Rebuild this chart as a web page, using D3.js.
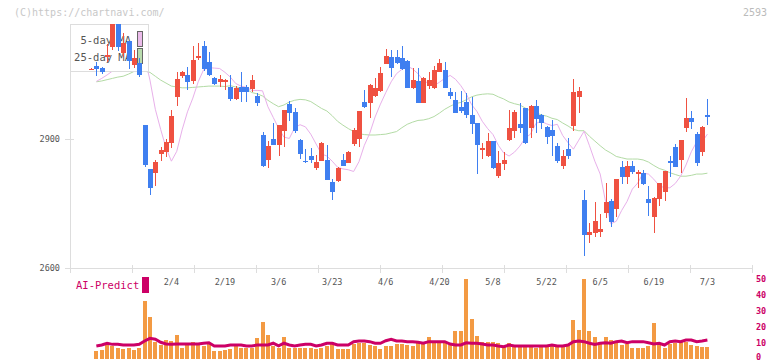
<!DOCTYPE html>
<html>
<head>
<meta charset="utf-8">
<script src="https://cdn.jsdelivr.net/npm/d3@7"></script>
<style>
  body { margin: 0; background: #fff; }
  svg text { font-family: "DejaVu Sans Mono", monospace; }
</style>
</head>
<body>
<div id="chart"></div>
<script>
'use strict';

// daily candles, oldest first (yen)
const opens = [3063, 3071, 3066, 3092, 3116, 3195, 3101, 3130, 3073, 3078,
  2933, 2831, 2822, 2866, 2871, 2892, 2999, 3048, 3050, 3037,
  3090, 3118, 3080, 3043, 3034, 3034, 3021, 2993, 3023, 3022,
  3017, 3002, 2910, 2852, 2901, 2887, 2920, 2982, 2963, 2898,
  2850, 2862, 2832, 2850, 2852, 2800, 2803, 2852, 2845, 2889,
  2900, 2988, 2985, 3002, 3013, 3076, 3091, 3091, 3089, 3083,
  3020, 3036, 2985, 3025, 3020, 3058, 3062, 3011, 2992, 2975,
  2987, 2957, 2937, 2875, 2861, 2896, 2814, 2842, 2898, 2920,
  2936, 2972, 2927, 2978, 2957, 2929, 2922, 2884, 2838, 2877,
  2931, 2999, 2759, 2677, 2682, 2685, 2729, 2756, 2737, 2836,
  2813, 2838, 2818, 2822, 2761, 2720, 2761, 2776, 2849, 2883,
  2852, 2927, 2950, 2912, 2871, 2957];
const highs = [3066, 3081, 3069, 3122, 3215, 3210, 3148, 3130, 3108, 3090,
  2933, 2831, 2852, 2883, 2901, 2968, 3058, 3060, 3069, 3118,
  3125, 3130, 3104, 3045, 3050, 3040, 3050, 3024, 3057, 3027,
  3050, 3008, 2917, 2896, 2939, 2934, 2969, 2990, 2972, 2901,
  2877, 2880, 2863, 2893, 2887, 2807, 2835, 2866, 2873, 2926,
  2967, 3015, 3028, 3044, 3069, 3111, 3108, 3108, 3118, 3085,
  3067, 3066, 3045, 3058, 3072, 3087, 3081, 3020, 3011, 3013,
  3008, 2999, 2938, 2892, 2914, 2897, 2873, 2870, 2968, 2968,
  2985, 2973, 2979, 2992, 2958, 2930, 2945, 2891, 2875, 2902,
  3041, 3023, 2782, 2704, 2753, 2726, 2799, 2761, 2808, 2850,
  2850, 2850, 2828, 2828, 2790, 2766, 2798, 2827, 2861, 2889,
  2899, 2997, 2966, 2918, 2931, 2994];
const lows = [3062, 3048, 3052, 3080, 3108, 3106, 3092, 3064, 3066, 3046,
  2836, 2770, 2791, 2850, 2859, 2880, 2978, 3043, 3015, 3029,
  3085, 3059, 3048, 3027, 3022, 3015, 2989, 2992, 2988, 2988,
  3010, 2978, 2836, 2834, 2886, 2861, 2883, 2943, 2915, 2854,
  2845, 2845, 2828, 2849, 2804, 2759, 2801, 2838, 2844, 2884,
  2882, 2972, 2949, 2998, 3010, 3075, 3046, 3076, 3062, 3019,
  3017, 2984, 2984, 3017, 3017, 3057, 3019, 2994, 2961, 2961,
  2950, 2912, 2819, 2854, 2858, 2831, 2810, 2828, 2896, 2902,
  2914, 2889, 2904, 2914, 2924, 2889, 2862, 2845, 2831, 2853,
  2919, 2962, 2629, 2658, 2672, 2673, 2717, 2696, 2720, 2795,
  2795, 2819, 2787, 2793, 2721, 2682, 2745, 2756, 2813, 2835,
  2822, 2918, 2924, 2838, 2861, 2933];
const closes = [3065, 3065, 3058, 3097, 3200, 3114, 3125, 3083, 3090, 3050,
  2840, 2787, 2848, 2875, 2894, 2954, 3040, 3058, 3034, 3086,
  3094, 3065, 3050, 3029, 3041, 3038, 2993, 3020, 3011, 3010,
  3038, 2985, 2838, 2884, 2887, 2933, 2968, 2961, 2919, 2866,
  2847, 2852, 2848, 2892, 2805, 2778, 2832, 2838, 2871, 2922,
  2966, 2975, 3027, 3020, 3055, 3094, 3067, 3077, 3063, 3020,
  3038, 2985, 3044, 3038, 3062, 3079, 3020, 3002, 2962, 2966,
  2957, 2936, 2887, 2880, 2896, 2833, 2845, 2852, 2926, 2964,
  2927, 2892, 2978, 2947, 2937, 2906, 2908, 2849, 2861, 2861,
  3011, 3013, 2677, 2683, 2710, 2690, 2755, 2708, 2807, 2813,
  2838, 2824, 2824, 2796, 2752, 2764, 2797, 2826, 2845, 2836,
  2898, 2950, 2941, 2845, 2928, 2953];

// moving averages as plotted (first day has none)
const ma5 = [null, 3035, 3042, 3050, 3059, 3097, 3107, 3119, 3124, 3122,
  3092, 3038, 2970, 2923, 2880, 2849, 2872, 2922, 2964, 2996,
  3034, 3062, 3067, 3066, 3065, 3056, 3045, 3030, 3024, 3021,
  3014, 3014, 3013, 2976, 2951, 2926, 2905, 2902, 2927, 2934,
  2929, 2912, 2889, 2866, 2861, 2849, 2835, 2831, 2829, 2825,
  2848, 2886, 2914, 2952, 2982, 3009, 3034, 3053, 3063, 3071,
  3064, 3053, 3037, 3030, 3025, 3033, 3042, 3049, 3040, 3025,
  3006, 2981, 2965, 2942, 2925, 2911, 2886, 2868, 2861, 2870,
  2884, 2903, 2912, 2937, 2942, 2936, 2932, 2935, 2909, 2892,
  2877, 2898, 2919, 2885, 2849, 2819, 2755, 2703, 2709, 2734,
  2755, 2784, 2798, 2821, 2819, 2807, 2792, 2787, 2787, 2797,
  2814, 2840, 2871, 2894, 2894, 2912];
const ma25 = [null, 3034, 3036, 3039, 3042, 3045, 3047, 3052, 3058, 3058,
  3059, 3056, 3047, 3038, 3031, 3024, 3022, 3020, 3020, 3021,
  3022, 3023, 3024, 3024, 3024, 3023, 3025, 3022, 3020, 3017,
  3009, 3006, 3001, 2991, 2983, 2976, 2980, 2987, 2991, 2993,
  2992, 2988, 2980, 2972, 2966, 2955, 2942, 2933, 2925, 2918,
  2913, 2911, 2910, 2910, 2911, 2912, 2915, 2918, 2927, 2935,
  2940, 2944, 2945, 2948, 2953, 2961, 2970, 2977, 2983, 2986,
  2992, 2999, 3003, 3005, 3006, 3005, 2999, 2994, 2987, 2983,
  2980, 2973, 2966, 2962, 2957, 2954, 2949, 2946, 2938, 2931,
  2923, 2920, 2920, 2907, 2896, 2885, 2875, 2868, 2860, 2857,
  2854, 2854, 2854, 2852, 2847, 2839, 2832, 2828, 2822, 2818,
  2814, 2814, 2816, 2819, 2819, 2821];

// AI-Predict panel (first day has none)
const predictBars = [null, 4.9, 5.3, 8.5, 7.7, 6.9, 5.9, 6.9, 5.3, 6.3,
  36.2, 26.1, 10.6, 8.5, 11.6, 11, 14.8, 6.7, 8.5, 10.6,
  10, 7.7, 10, 4.9, 4.9, 5.3, 6.1, 8.5, 6.7, 6.9,
  6.9, 13.1, 23, 14.8, 8, 6.3, 13.5, 6.7, 6.7, 6.9,
  6.9, 6.9, 5.9, 6.9, 7.7, 10.6, 5.7, 5.9, 5.9, 8.9,
  10, 10, 8.5, 7.7, 5.9, 7.7, 7.7, 9, 9.1, 8.5,
  7.7, 9.7, 9.1, 13.5, 10.6, 10.6, 10.6, 8.5, 17.3, 17.3,
  50, 24.8, 14.2, 10.6, 10.6, 10.2, 9.7, 7.5, 9.7, 7.7,
  7.7, 7.7, 7.7, 6.3, 7.7, 7.7, 8.5, 7.7, 7.7, 9.1,
  24.2, 17.9, 50, 17.3, 13.5, 10.2, 13.5, 11.6, 10.6, 8.5,
  8.9, 6.7, 6.7, 6.3, 7.7, 22.5, 8.5, 6.7, 9.1, 9.7,
  10.6, 10.6, 8.5, 7.7, 7.1, 7.1];
const predictLine = [null, 7.9, 8.5, 9.6, 8.9, 8.9, 8.5, 8.5, 8.5, 8.9,
  11, 12.7, 12.1, 10.2, 9.1, 8.9, 9.1, 9.1, 9.1, 9.1,
  9.1, 9.6, 9.9, 7.9, 7.9, 7.9, 8.5, 8.5, 8.5, 7.9,
  7.9, 8.5, 8.5, 8.5, 9.6, 7.9, 9.6, 8.5, 7.9, 8.5,
  8.9, 8.9, 7.9, 8.5, 9.6, 9.6, 8.5, 8.5, 8.5, 10.6,
  11, 11, 10.6, 9.6, 9.6, 11.2, 12.1, 11, 11, 10.6,
  10.6, 10.2, 9.6, 10.6, 10.6, 10.6, 10.6, 9.1, 8.5, 8.5,
  9.9, 9.6, 9.6, 9.1, 8.5, 8.5, 7.9, 7.4, 8.5, 7.9,
  7.9, 7.9, 7.9, 7.9, 7.9, 7.9, 8.5, 7.9, 7.9, 8.5,
  10.6, 11, 10.6, 9.6, 8.9, 9.6, 9.9, 9.6, 10.6, 11,
  9.9, 10.6, 10.6, 10.6, 9.9, 9.1, 9.6, 8.5, 10.6, 11,
  10.6, 11.6, 11.6, 10.6, 11, 11.6];

const dateTickIndex = [15, 25, 35, 45, 55, 65, 75, 85, 95, 105, 115];
const dateTickLabels = ['2/4', '2/19', '3/6', '3/23', '4/6', '4/20', '5/8', '5/22', '6/5', '6/19', '7/3'];
const priceTicks = [2600, 2900];
const predictTicks = [0, 10, 20, 30, 40, 50];

const UP = '#ef5141';
const DOWN = '#3f7ff0';
const GRID = '#dddddd';
const MAGENTA = '#cc0066';

class CandleChart {

    constructor(parentId, width, height) {
        this.plot = { left: 70, right: 752, top: 24, bottom: 268 };

        this.svg = d3.select(parentId)
            .append('svg')
            .attr('width', width)
            .attr('height', height);

        this.x = d3.scaleLinear().domain([0, closes.length - 1]).range([91, 707.4]);
        this.y = d3.scaleLinear().domain([2600, 2900]).range([268, 139.3]);
        this.yPredict = d3.scaleLinear().domain([0, 50]).range([358.5, 279]);
        // evenly spaced ticks along the date axis
        this.grid = d3.scaleLinear().domain([0, 11]).range([this.plot.left, this.plot.right]);

        this.svg.append('defs').append('clipPath').attr('id', 'plot-clip')
            .append('rect')
            .attr('x', this.plot.left).attr('y', this.plot.top)
            .attr('width', this.plot.right - this.plot.left)
            .attr('height', this.plot.bottom - this.plot.top);
    }

    cx(i) {
        return Math.round(this.x(i));
    }

    draw() {
        this.drawHeader();
        this.drawAxes();
        this.drawMovingAverages();
        this.drawLegend();
        this.drawCandles();
        this.drawPredict();
    }

    drawHeader() {
        this.svg.append('text')
            .attr('x', 14).attr('y', 16)
            .attr('font-size', 10).attr('fill', '#c8c8c8')
            .text('(C)https://chartnavi.com/');

        this.svg.append('text')
            .attr('x', 767).attr('y', 16)
            .attr('text-anchor', 'end')
            .attr('font-size', 10).attr('fill', '#bbbbbb')
            .text('2593');
    }

    drawAxes() {
        const p = this.plot;
        const g = this.svg.append('g').attr('shape-rendering', 'crispEdges');

        g.append('line')
            .attr('x1', p.left + 0.5).attr('x2', p.left + 0.5)
            .attr('y1', p.top).attr('y2', p.bottom)
            .attr('stroke', GRID);
        g.append('line')
            .attr('x1', 65).attr('x2', p.right)
            .attr('y1', p.bottom + 0.5).attr('y2', p.bottom + 0.5)
            .attr('stroke', GRID).attr('stroke-width', 1.5);

        g.selectAll('.gtick')
            .data(d3.range(12))
            .join('line')
            .attr('x1', d => Math.round(this.grid(d)) + 0.5)
            .attr('x2', d => Math.round(this.grid(d)) + 0.5)
            .attr('y1', p.bottom - 3).attr('y2', p.bottom + 5)
            .attr('stroke', GRID);

        g.selectAll('.ytick')
            .data(priceTicks)
            .join('line')
            .attr('x1', 65).attr('x2', 74)
            .attr('y1', d => Math.round(this.y(d)) + 0.5)
            .attr('y2', d => Math.round(this.y(d)) + 0.5)
            .attr('stroke', GRID);

        this.svg.selectAll('.ylabel')
            .data(priceTicks)
            .join('text')
            .attr('x', 60)
            .attr('y', d => this.y(d) + 3)
            .attr('text-anchor', 'end')
            .attr('font-size', 8.5).attr('fill', '#555')
            .text(d => d);

        this.svg.selectAll('.xlabel')
            .data(dateTickIndex)
            .join('text')
            .attr('x', d => this.x(d))
            .attr('y', 285)
            .attr('text-anchor', 'middle')
            .attr('font-size', 8.5).attr('fill', '#555')
            .text((d, k) => dateTickLabels[k]);
    }

    drawMovingAverages() {
        const g = this.svg.append('g').attr('clip-path', 'url(#plot-clip)');

        const line = d3.line()
            .defined(d => d.v !== null)
            .x(d => this.x(d.i))
            .y(d => this.y(d.v));

        g.append('path')
            .attr('d', line(ma25.map((v, i) => ({ i: i, v: v }))))
            .attr('fill', 'none').attr('stroke', '#b3dba5').attr('stroke-width', 1);

        g.append('path')
            .attr('d', line(ma5.map((v, i) => ({ i: i, v: v }))))
            .attr('fill', 'none').attr('stroke', '#e8b0ea').attr('stroke-width', 1);
    }

    drawLegend() {
        const g = this.svg.append('g');

        g.append('rect')
            .attr('x', 70.5).attr('y', 24.5)
            .attr('width', 78).attr('height', 47)
            .attr('fill', '#fff').attr('stroke', GRID);

        g.append('text')
            .attr('x', 131).attr('y', 44)
            .attr('text-anchor', 'end')
            .attr('font-size', 10.5).attr('fill', '#555')
            .text('5-day MA');
        g.append('text')
            .attr('x', 131).attr('y', 61)
            .attr('text-anchor', 'end')
            .attr('font-size', 10.5).attr('fill', '#555')
            .text('25-day MA');

        g.append('rect')
            .attr('x', 137.5).attr('y', 31.5).attr('width', 5).attr('height', 15)
            .attr('fill', '#ebbbea').attr('stroke', '#666');
        g.append('rect')
            .attr('x', 137.5).attr('y', 48.5).attr('width', 5).attr('height', 15)
            .attr('fill', '#b9dcae').attr('stroke', '#666');
    }

    drawCandles() {
        const g = this.svg.append('g')
            .attr('clip-path', 'url(#plot-clip)')
            .attr('shape-rendering', 'crispEdges');

        const days = d3.range(closes.length);
        const colour = i => closes[i] >= opens[i] ? UP : DOWN;

        g.selectAll('.wick')
            .data(days)
            .join('line')
            .attr('x1', i => this.cx(i) + 0.5)
            .attr('x2', i => this.cx(i) + 0.5)
            .attr('y1', i => this.y(highs[i]))
            .attr('y2', i => this.y(lows[i]))
            .attr('stroke', colour);

        g.selectAll('.body')
            .data(days)
            .join('rect')
            .attr('x', i => this.cx(i) - 2)
            .attr('width', 5)
            .attr('y', i => this.y(Math.max(opens[i], closes[i])))
            .attr('height', i => Math.max(1.5, Math.abs(this.y(opens[i]) - this.y(closes[i]))))
            .attr('fill', colour);
    }

    drawPredict() {
        const yp = this.yPredict;
        const days = d3.range(1, predictBars.length);

        this.svg.append('g')
            .attr('shape-rendering', 'crispEdges')
            .selectAll('rect')
            .data(days)
            .join('rect')
            .attr('x', i => this.cx(i) - 2)
            .attr('width', 4)
            .attr('y', i => yp(predictBars[i]))
            .attr('height', i => yp(0) - yp(predictBars[i]))
            .attr('fill', '#f39a43');

        const line = d3.line()
            .x(i => this.x(i))
            .y(i => yp(predictLine[i]));

        this.svg.append('path')
            .attr('d', line(days))
            .attr('fill', 'none')
            .attr('stroke', MAGENTA)
            .attr('stroke-width', 3);

        // the lowest label sits on the window edge, keep it inside
        this.svg.selectAll('.plabel')
            .data(predictTicks)
            .join('text')
            .attr('x', 756)
            .attr('y', d => Math.min(yp(d) + 3, 359.5))
            .attr('font-size', 8.5)
            .attr('font-weight', 'bold')
            .attr('fill', MAGENTA)
            .text(d => d);

        this.svg.append('text')
            .attr('x', 76).attr('y', 289)
            .attr('font-size', 10.5).attr('fill', MAGENTA)
            .text('AI-Predict');

        this.svg.append('rect')
            .attr('x', 142).attr('y', 277)
            .attr('width', 7).attr('height', 16)
            .attr('fill', MAGENTA);
    }
}

new CandleChart('#chart', 772, 361).draw();
</script>
</body>
</html>
